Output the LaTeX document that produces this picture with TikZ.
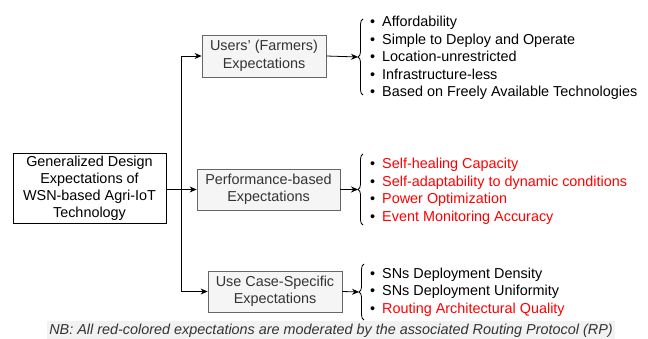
\documentclass[tikz,border=0pt]{standalone}
\usepackage{fontspec}
\setmainfont{Liberation Sans}
\usetikzlibrary{arrows.meta,decorations.pathreplacing}
\definecolor{boxborder}{HTML}{666666}
\definecolor{boxfill}{HTML}{F5F5F5}
\definecolor{boxtext}{HTML}{333333}
\definecolor{nbfill}{HTML}{F2F2F2}
\definecolor{redtext}{HTML}{FF0000}
\tikzset{
  mainbox/.style={draw=black, fill=white, line width=0.8pt, align=center, inner sep=0pt,
    font=\fontsize{14.4pt}{17pt}\selectfont, text=black},
  graybox/.style={draw=boxborder, fill=boxfill, line width=0.8pt, align=center, inner sep=0pt,
    font=\fontsize{14.4pt}{17.5pt}\selectfont, text=boxtext},
  listnode/.style={anchor=west, inner sep=0pt, align=left, font=\fontsize{14.4pt}{17.5pt}\selectfont},
  conn/.style={line width=0.8pt, draw=black},
  arr/.style={conn, -{Stealth[length=7pt,width=6pt]}},
  bracestyle/.style={draw=black, line width=0.8pt, decorate, decoration={brace, amplitude=5pt}},
}
\newcommand{\bul}{\makebox[12pt][l]{\textbullet}}
\newcommand{\itm}[1]{\bul#1\\}
\begin{document}
\begin{tikzpicture}[x=1pt,y=-1pt]
\useasboundingbox (0,0) rectangle (648,339);
% boxes
\node[mainbox, minimum width=153pt, minimum height=70pt] (main) at (89.5,188)
  {Generalized Design\\Expectations of\\WSN-based Agri-IoT\\Technology};
\node[graybox, minimum width=124pt, minimum height=42pt] (users) at (264,56)
  {Users' (Farmers)\\Expectations};
\node[graybox, minimum width=143pt, minimum height=41pt] (perf) at (268.5,189.5)
  {Performance-based\\Expectations};
\node[graybox, minimum width=134pt, minimum height=41pt] (usecase) at (275,291.5)
  {Use Case-Specific\\Expectations};
% junction coordinates
\coordinate (jt) at (181.5,56);
\coordinate (jm) at (181.5,189.5);
\coordinate (jb) at (181.5,291.5);
\draw[conn] (jt) -- (jb);
\draw[conn, line width=1.4pt] (main.east |- jm) -- (jm);
\draw[arr] (jm) -- (perf.west);
\draw[arr] (jt) -- (users.west);
\draw[arr] (jb) -- (usecase.west);
% braces
\coordinate (b1t) at (363,19);
\coordinate (b1b) at (363,95);
\coordinate (b1m) at (358,57);
\coordinate (b2t) at (363,154);
\coordinate (b2b) at (363,225);
\coordinate (b2m) at (358,189.5);
\coordinate (b3t) at (364,264);
\coordinate (b3b) at (364,320);
\coordinate (b3m) at (359,292);
\draw[bracestyle] (b1b) -- (b1t);
\draw[bracestyle] (b2b) -- (b2t);
\draw[bracestyle] (b3b) -- (b3t);
\draw[arr] (users.east) -- (b1m);
\draw[arr] (perf.east) -- (b2m);
\draw[arr] (usecase.east) -- (b3m);
% lists
\node[listnode] (list1) at (370,58) {%
  \itm{Affordability}\itm{Simple to Deploy and Operate}\itm{Location-unrestricted}\itm{Infrastructure-less}\bul Based on Freely Available Technologies};
\node[listnode] (list2) at (370,191.5) {%
  \itm{\textcolor{redtext}{Self-healing Capacity}}\itm{\textcolor{redtext}{Self-adaptability to dynamic conditions}}\itm{\textcolor{redtext}{Power Optimization}}\bul\textcolor{redtext}{Event Monitoring Accuracy}};
\node[listnode] (list3) at (370,292) {%
  \itm{SNs Deployment Density}\itm{SNs Deployment Uniformity}\bul\textcolor{redtext}{Routing Architectural Quality}};
% note
\node[fill=nbfill, text=boxtext, inner xsep=2pt, inner ysep=2.5pt, font=\fontsize{14.4pt}{16pt}\selectfont\itshape] (nb) at (331,330.5)
  {NB: All red-colored expectations are moderated by the associated Routing Protocol (RP)};
\end{tikzpicture}
\end{document}
